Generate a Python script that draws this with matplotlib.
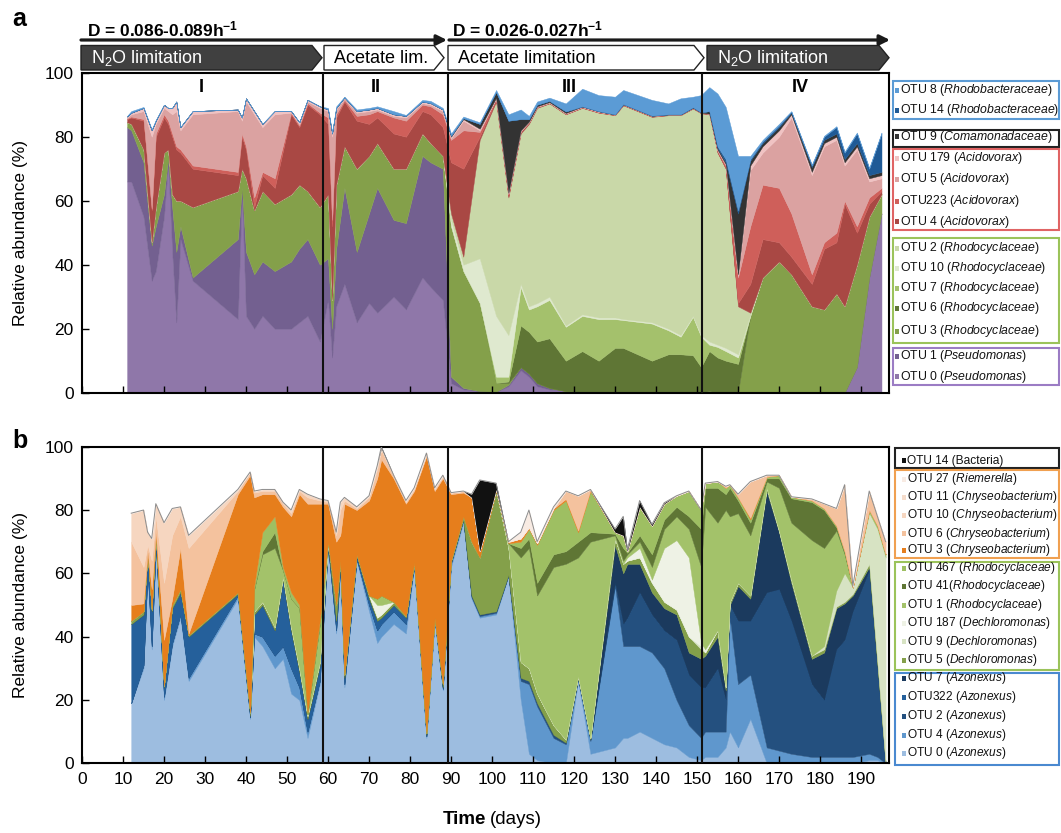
import numpy as np
import matplotlib
matplotlib.use('Agg')
import matplotlib.pyplot as plt
from matplotlib.patches import Polygon, Rectangle

plt.rcParams['font.family'] = ['Liberation Sans', 'DejaVu Sans']
plt.rcParams['mathtext.fontset'] = 'custom'
plt.rcParams['mathtext.rm'] = 'Liberation Sans'
plt.rcParams['mathtext.it'] = 'Liberation Sans:italic'
plt.rcParams['mathtext.bf'] = 'Liberation Sans:bold'
NARROW = ['Liberation Sans Narrow', 'Liberation Sans', 'DejaVu Sans']

# ---------------- data: panel a ----------------
days_a = [11, 12, 15, 17, 18, 20, 21, 22, 23, 24, 27, 38, 39, 40, 42, 44, 47, 51, 53, 55, 58,
          60, 61, 62, 64, 67, 70, 72, 76, 79, 83, 85, 88,
          90, 93, 97, 101, 104, 107, 109, 111, 114, 118, 122, 126, 130, 132, 139, 143, 146, 149, 151,
          153, 155, 157, 160, 163, 166, 170, 173, 178, 181, 184, 186, 189, 192, 195]

a_otu0 = [66, 66, 55, 35, 38, 55, 72, 44, 22, 48, 35, 23, 63, 24, 20, 24, 20, 20, 22, 24, 16,
          29, 11, 27, 34, 22, 28, 25, 30, 26, 36, 33, 29,
          3, 1, 0.5, 0.3, 2, 7, 5, 2, 1, 0.5, 0.3, 0.2, 0.2, 0.1, 0.1, 0.1, 0.1, 0.1, 0.1,
          0.2, 0, 0, 0, 0, 0, 0, 0, 0, 0, 0, 0, 8, 36, 56]
a_otu1 = [17, 16, 17, 11, 14, 7, 1, 14, 22, 4, 1, 25, 1, 20, 17, 17, 18, 21, 23, 24, 24,
          13, 9, 18, 30, 22, 28, 39, 24, 27, 38, 39, 41,
          2, 0.5, 0, 0, 0.5, 1, 1, 1, 0.5, 0, 0, 0, 0, 0, 0, 0, 0, 0, 0,
          0.1, 0, 0, 0, 0, 0, 0, 0, 0, 0, 0, 0, 0, 0, 0]
a_otu3 = [1.5, 2, 4, 1, 6, 13, 3, 4, 16, 8, 22, 15, 6, 23, 20, 22, 21, 21, 20, 15, 18,
          20, 9, 20, 13, 26, 18, 14, 16, 17, 7, 6, 4,
          47, 36.5, 27.5, 2.7, 0.5, 0, 0, 0, 0, 0, 0, 0, 0, 0, 0, 0, 0, 0, 0,
          0.2, 0, 0, 0, 24, 36, 41, 37, 27, 26, 31, 27, 32, 19, 6]
a_otu6 = [0, 0, 0, 0, 0, 0, 0, 0, 0, 0, 0, 0, 0, 0, 0, 0, 0, 0, 0, 0, 0,
          0, 0, 0, 0, 0, 0, 0, 0, 0, 0, 0, 0,
          0, 0, 0, 0, 0.5, 13, 13, 13, 15.5, 9.5, 12.7, 9.8, 13.8, 13.9, 9.9, 11.9, 11.9, 11.6, 7.9,
          12.5, 11, 10, 9, 0, 0, 0, 0, 0, 0, 0, 0, 0, 0, 0]
a_otu7 = [0, 0, 0, 0, 0, 0, 0, 0, 0, 0, 0, 0, 0, 0, 0, 0, 0, 0, 0, 0, 0,
          0, 0, 0, 0, 0, 0, 0, 0, 0, 0, 0, 0,
          0, 0, 0, 2, 1.5, 12, 7, 11, 12, 10.6, 11, 13, 9, 8.7, 11.6, 7.5, 5.5, 12, 9.5,
          2, 3.3, 3, 2, 0, 0, 0, 0, 0, 0, 0, 0, 0, 0, 0]
a_otu10 = [0, 0, 0, 0, 0, 0, 0, 0, 0, 0, 0, 0, 0, 0, 0, 0, 0, 0, 0, 0, 0,
           0, 0, 0, 0, 0, 0, 0, 0, 0, 0, 0, 0,
           2, 2, 14, 19, 13, 1, 1, 1, 1, 0.4, 0.5, 0.5, 0.5, 0.3, 0.4, 0.5, 0.5, 0.3, 0.5,
           1, 0.7, 1, 1, 0.5, 0, 0, 0, 0, 0, 0, 0, 0, 0, 0]
a_otu2 = [0, 0, 0, 0, 0, 0, 0, 0, 0, 0, 0, 0, 0, 0, 0, 0, 0, 0, 0, 0, 0,
          0, 0, 0, 0, 0, 0, 0, 0, 0, 0, 0, 0,
          2, 2.5, 37, 67, 43, 47, 57, 61, 60.4, 66, 64.5, 64, 63.2, 66.8, 64.2, 66.7, 68.7, 64.8, 69.3,
          71, 60, 56, 15, 0.5, 0, 0, 0, 0, 0, 0, 0, 0, 0, 0]
a_otu4 = [1, 2, 9, 10, 22, 11, 8, 18, 16, 15, 12, 5, 10, 9, 1, 5, 5, 25, 18, 27, 29,
          22, 23, 21, 14, 15, 10, 8, 11, 10, 7, 9, 9,
          16, 27.5, 1, 0.5, 0.5, 0.5, 0.3, 0.2, 0.1, 0.1, 0.1, 0.1, 0.1, 0.1, 0.1, 0.1, 0.1, 0.1, 0.1,
          0.1, 0.2, 0.2, 1, 9, 12, 6, 5.5, 7, 19, 16, 32, 10, 4, 1]
a_otu223 = [0.2, 0.3, 0.5, 0.5, 1, 1, 1, 1, 1, 1, 1, 1, 1, 1, 3, 1, 3, 0.5, 0.5, 0.5, 0.5,
            2, 2, 1, 0.5, 1.5, 3, 2, 5, 5, 2, 2.5, 4,
            7, 12, 1.5, 0.5, 0.5, 0.2, 0.2, 0.1, 0.1, 0.1, 0.1, 0.1, 0.1, 0.1, 0.1, 0.1, 0.1, 0.1, 0.1,
            0.1, 0.4, 0.8, 8, 18, 17, 17, 13.5, 3, 2, 3, 1, 2, 2, 1]
a_otu5 = [0.3, 0.7, 2.5, 22.5, 3, 2, 3, 6, 11, 6, 16, 19, 4, 14, 26, 14, 20, 0, 0.5, 0.5, 1.5,
          2, 26, 1.5, 0.5, 1, 1, 0.5, 0.5, 1, 0.5, 0.5, 1,
          0.5, 3, 0.5, 0, 0.2, 0.1, 0.1, 0.1, 0.1, 0.1, 0.1, 0.1, 0, 0.1, 0.1, 0, 0, 0, 0,
          0, 0.2, 0.2, 0.5, 17.6, 10, 16, 30, 31, 30, 29, 11, 24, 5, 3]
a_otu179 = [0.3, 0.5, 1, 2, 1, 1, 1, 2, 3, 1, 1, 0.5, 1, 1, 1, 1, 1, 0.5, 0.5, 0.5, 0.5,
            0.5, 1, 0.5, 0.3, 0.5, 0.5, 0.5, 0.5, 0.5, 0.5, 0.5, 0.5,
            0.5, 0.5, 0.5, 0.2, 0.2, 0.2, 0.1, 0.1, 0.1, 0.1, 0.1, 0.1, 0, 0, 0, 0, 0, 0, 0,
            0, 0.2, 0.2, 0.5, 1.4, 2, 2, 1, 1, 1, 1, 1, 1, 1, 1]
a_otu9 = [0, 0, 0, 0, 0, 0, 0, 0, 0, 0, 0, 0, 0, 0, 0, 0, 0, 0, 0, 0, 0,
          0, 0, 0, 0, 0, 0, 0, 0, 0, 0, 0, 0,
          0.3, 0.3, 1.5, 1.8, 22.6, 3.5, 0.8, 0.5, 0.4, 0.5, 0.1, 0.1, 0.1, 0.1, 0.1, 0.1, 0.1, 0.2, 0.1,
          0.8, 0.5, 0.6, 19, 1.5, 1, 1, 0.5, 1.5, 1, 1, 1, 1, 1, 1]
a_otu14 = [0, 0, 0, 0, 0, 0, 0, 0, 0, 0, 0, 0, 0, 0, 0, 0, 0, 0, 0, 0, 0,
           0, 0, 0, 0, 0, 0, 0, 0, 0, 0, 0, 0,
           0, 0, 0, 0, 0, 0, 0, 0, 0, 0, 0, 0, 0, 0, 0, 0, 0, 0, 0,
           0, 0.5, 1, 1, 0.5, 0.5, 0.5, 0.3, 0.5, 1, 2, 2, 3, 2, 12]
a_otu8 = [0.2, 0.5, 0.3, 0.3, 0.3, 0, 0, 0, 0, 0, 0, 0, 0, 0, 0, 0, 0, 0, 0, 0, 0,
          0.5, 0.5, 0.5, 0.2, 0.5, 0.5, 0.5, 1, 0.3, 0.5, 0.7, 0.5,
          0.7, 0.5, 0.5, 0.6, 2, 3, 1, 1, 1, 2.5, 5.5, 5, 5.5, 4.4, 4.9, 3.4, 5, 3.3, 5.4,
          7.5, 16.5, 16.3, 17, 1, 0.5, 0.5, 0.2, 0.3, 0.3, 0.3, 0.3, 0.3, 0.3, 0.3]

labels_a = ['OTU 8 ($\\mathit{Rhodobacteraceae}$)', 'OTU 14 ($\\mathit{Rhodobacteraceae}$)',
            'OTU 9 ($\\mathit{Comamonadaceae}$)',
            'OTU 179 ($\\mathit{Acidovorax}$)', 'OTU 5 ($\\mathit{Acidovorax}$)',
            'OTU223 ($\\mathit{Acidovorax}$)', 'OTU 4 ($\\mathit{Acidovorax}$)',
            'OTU 2 ($\\mathit{Rhodocyclaceae}$)', 'OTU 10 ($\\mathit{Rhodocyclaceae}$)',
            'OTU 7 ($\\mathit{Rhodocyclaceae}$)', 'OTU 6 ($\\mathit{Rhodocyclaceae}$)',
            'OTU 3 ($\\mathit{Rhodocyclaceae}$)',
            'OTU 1 ($\\mathit{Pseudomonas}$)', 'OTU 0 ($\\mathit{Pseudomonas}$)']

# ---------------- data: panel b ----------------
days_b = [12, 15, 16, 17, 18, 20, 22, 24, 26, 38, 41, 42, 44, 47, 49, 51, 53, 55, 58,
          60, 62, 63, 64, 67, 70, 72, 73, 76, 79, 81, 84, 86, 88,
          90, 93, 95, 97, 101, 104, 107, 109, 111, 115, 118, 121, 124, 130, 132, 133, 136, 139, 142, 145, 148, 151,
          152, 155, 157, 158, 160, 163, 167, 170, 173, 178, 181, 184, 186, 188, 192, 194, 196]

b_otu0 = [19, 30, 60, 36, 68, 20, 37, 46, 26, 52, 14, 40, 37, 30, 33, 22, 20, 8, 25,
          68, 41, 61, 24, 64, 48, 38, 40, 44, 41, 62, 8, 45, 23,
          62, 76, 52, 46, 47, 59, 20, 3, 1, 0, 0, 26, 3, 5, 8, 8, 10, 8, 6, 5, 2, 1,
          2, 2, 5, 10, 5, 14, 0, 0, 0, 0, 0, 0, 0, 0, 1, 1, 0]
b_otu4 = [0, 1, 1, 1, 1, 1, 1, 1, 1, 1, 0.5, 1, 3, 4, 4, 8, 4, 2, 1,
          0.5, 1, 1, 1, 0.5, 2, 4, 4, 4, 3, 0.5, 0.5, 0.5, 0.5,
          1, 1, 0.5, 0.5, 0.5, 0.3, 6, 22, 17, 8, 6, 0.5, 4, 51, 29, 29, 27, 27, 24, 15, 10, 7,
          8, 8, 5, 36, 20, 14, 5, 4, 3, 2, 2, 2, 2, 2, 2, 1, 0]
b_otu2 = [0, 0, 0, 0, 0, 0, 0, 0, 0, 0, 0, 0, 0, 0, 0, 0, 0, 0, 0,
          0, 0, 0, 0, 0, 0, 0, 0, 0, 0, 0, 0, 0, 0,
          0.5, 0, 0.5, 0.5, 0.5, 0.2, 1, 1, 1, 1, 0.5, 0.5, 0.5, 1, 7, 9, 17, 12, 12, 19, 16, 16,
          14, 20, 10, 4, 20, 17, 49, 51, 42, 23, 18, 34, 37, 46, 58, 28, 0]
b_otu322 = [25, 16, 5, 11, 3, 3, 11, 7, 13, 0.5, 0.5, 6, 10, 8, 21, 12, 5, 4, 5,
            0.5, 3, 1, 2, 1, 2, 3, 2, 2, 2, 0.5, 0.5, 0.5, 0.5,
            0, 0, 0, 0, 0, 0, 0, 0, 0, 0, 0, 0, 0, 0, 0, 0, 0, 0, 0, 0, 0, 0,
            0, 0, 0, 0, 0, 0, 0, 0, 0, 0, 0, 0, 0, 0, 0, 0, 0]
b_otu7 = [0, 0, 0, 0, 0, 0, 0, 0, 0, 0, 0, 0, 0, 0, 0, 0, 0, 0, 0,
          0, 0, 0, 0, 0, 0, 0, 0, 0, 0, 0, 0, 0, 0,
          0, 0, 0, 0, 0, 0, 0, 0, 0, 0, 0, 0, 0, 12, 16, 17, 9, 7, 7, 8, 7, 9,
          10, 10, 3, 0, 11, 7, 32, 18, 12, 8, 15, 13, 11.5, 5, 1, 1, 0]
b_otu5 = [1, 1, 0.5, 0.5, 0.5, 0.5, 1, 1, 0.5, 0.5, 1, 1, 1, 1, 1, 1, 1, 1, 1,
          1, 5, 1, 1, 0.5, 1, 1, 1, 1, 0.5, 0.5, 0.5, 0, 1,
          0.5, 1, 17, 18, 38, 8.5, 5, 4, 3, 3, 1, 0.5, 0.5, 2, 3, 1, 2, 3, 2, 1.5, 5, 3,
          1, 2, 1, 1, 1, 1, 1, 0.5, 1, 1, 1, 0.5, 0.5, 0.5, 1, 1, 0]
b_otu9 = [0, 0, 0, 0, 0, 0, 0, 0, 0, 0, 0, 0, 0, 0, 0, 0, 0, 0, 0,
          0, 0, 0, 0, 0, 0, 0, 0, 0, 0, 0, 0, 0, 0,
          0, 0, 0, 0, 0, 0, 0, 0, 0, 0, 0, 0, 0, 0, 0, 0, 0, 0, 0, 0, 0, 1,
          0, 0, 0, 0, 0, 0, 0, 0, 0, 0, 1, 5, 9, 2, 16, 42, 65]
b_otu187 = [0, 0, 0, 0, 0, 0, 0, 0, 0, 0, 0, 0, 0, 0, 0, 0, 0, 0, 0,
            0, 0, 0, 0, 0, 0, 4, 3, 0, 0, 0, 0, 0, 0,
            0, 0, 0, 0, 0, 0, 0, 0, 0, 0, 0, 0, 0, 0, 0, 1, 3, 1, 17, 22, 25, 1,
            1, 0, 0, 0, 0, 0, 0, 0, 0, 0, 0, 0, 0, 0, 0, 0, 0]
b_otu1 = [0, 0, 0, 0, 0, 0, 0, 0, 0, 0, 0, 7, 15, 25, 2, 9, 19, 0.5, 12,
          0, 0, 0, 0, 0, 0, 2, 3, 0, 0, 0, 0, 0, 0,
          0, 0, 0, 0, 0, 1.5, 33, 38, 31, 50, 55.5, 37.5, 62, 1, 1, 1, 2, 4, 6, 7.5, 9, 24,
          45, 34, 56, 27, 22, 19, 2, 13.5, 18, 36.5, 31, 19, 6, 0, 1, 1, 1]
b_otu41 = [0, 0, 0, 0, 0, 0, 0, 0, 0, 0, 0, 0, 1, 5, 0, 0, 0, 0, 0,
           0, 0, 0, 0, 0, 0, 0, 0, 0, 0, 0, 0, 0, 0,
           0, 0, 0, 0, 0, 0, 3, 3, 4, 4, 4, 5, 3, 0.5, 4, 0.5, 2, 4, 3, 3, 4, 12,
           6, 11, 5, 9, 4, 4, 1, 3, 7.7, 12, 12, 1, 0.5, 0, 0, 0, 0]
b_otu467 = [0, 0, 0, 0, 0, 0, 0, 0, 0, 0, 0, 1, 6, 5, 1, 2, 1, 0.5, 1,
            0, 0, 0, 0, 0, 0, 0, 0, 0, 0, 0, 0, 0, 0,
            0, 0, 0, 0, 0, 0, 2, 3, 12, 14, 16, 3, 13, 0.5, 4, 0.5, 9, 9, 5, 3.5, 8, 6,
            1.5, 2, 2, 1, 1, 1, 0.5, 1, 0.5, 0.5, 0.5, 0.5, 0.5, 0, 0, 0, 0]
b_otu3 = [5, 2.5, 0.5, 6.5, 0.5, 14.5, 2, 13, 0.5, 31, 75, 28, 12, 7, 19, 24, 35, 66, 37,
          12, 20, 8, 54, 14, 30, 38, 43, 39, 35.5, 22.5, 87.5, 40, 65,
          21, 7.5, 14, 2, 0.5, 0.3, 1, 0.5, 0.5, 0.5, 0.5, 0.5, 0.3, 0, 0, 0, 0, 0, 0, 0, 0, 0,
          0, 0, 0, 0, 0, 0.5, 0, 0, 0, 0, 0, 0, 0, 0, 0, 0, 0]
b_otu6 = [20, 11.5, 2, 9, 5, 18, 20, 10, 27, 1, 1, 1.5, 1, 1, 1, 1, 1, 2, 1,
          0.5, 2, 8, 1, 0.5, 1, 3, 3, 0.5, 0.5, 0.5, 0.5, 0.5, 0.5,
          0.5, 0.5, 0, 0, 0, 0.2, 0, 0, 0, 0, 2.5, 11, 0.2, 0, 0, 0, 0, 0, 0, 0, 0, 0,
          0, 0, 0.5, 0, 1, 11.5, 0.5, 0, 0, 0.5, 1.5, 5.5, 21, 0.5, 6, 3, 4]
b_otu10 = [9, 18, 4, 7, 4, 19, 8.5, 3, 4, 0.5, 0, 0.5, 0.5, 0.5, 0.5, 1, 0.5, 1, 0.5,
           0.5, 1, 2.5, 1, 0.5, 0.5, 1, 0.5, 0.5, 0.5, 0.5, 0.5, 0.5, 0.5,
           0, 0, 0, 0, 0, 0, 0, 0, 0, 0, 0, 0, 0, 0, 0, 0, 0, 0, 0, 0, 0, 0,
           0, 0, 0, 0, 0, 0, 0, 0, 0, 0, 0, 0, 0, 0, 0, 0, 0]
b_otu11 = [0, 0, 0, 0, 0, 0, 0, 0, 0, 0, 0, 0, 0, 0, 0, 0, 0, 0, 0,
           0, 0, 0, 0, 0, 0, 0, 0, 0, 0, 0, 0, 0, 0,
           0, 0, 0, 0, 0, 0, 0, 0, 0, 0, 0, 0, 0, 0, 0, 0, 0, 0, 0, 0, 0, 0,
           0, 0, 0, 0, 0, 0, 0, 0, 0, 0, 0, 0, 0, 0, 0, 0, 0]
b_otu27 = [0, 0, 0, 0, 0, 0, 0, 0, 0, 0, 0, 0, 0, 0, 0, 0, 0, 0, 0,
           0, 0, 0, 0, 0, 0, 0, 0, 0, 0, 0, 0, 0, 0,
           0, 0, 0, 0, 0, 0, 2, 5.5, 0.5, 0.5, 0, 0, 0, 0, 0, 0, 0, 0, 0, 0, 0, 0,
           0, 0, 0, 0, 0, 0, 0, 0, 0, 0, 0, 0, 0, 0, 0, 0, 0]
b_otu14 = [0, 0, 0, 0, 0, 0, 0, 0, 0, 0, 0, 0, 0, 0, 0, 0, 0, 0, 0,
           0, 0, 0, 0, 0, 0, 0, 0.5, 0, 0, 0, 0, 0, 0,
           0, 0, 1, 22.5, 2, 0, 0, 0, 0, 0, 0, 0, 0, 1, 6, 0.5, 2, 0.5, 0.3, 0, 0, 0,
           0, 0, 0, 0, 0, 0, 0, 0, 0, 0, 0, 0, 0, 0, 0, 0, 0]

labels_b = ['OTU 14 (Bacteria)', 'OTU 27 ($\\mathit{Riemerella}$)',
            'OTU 11 ($\\mathit{Chryseobacterium}$)', 'OTU 10 ($\\mathit{Chryseobacterium}$)',
            'OTU 6 ($\\mathit{Chryseobacterium}$)', 'OTU 3 ($\\mathit{Chryseobacterium}$)',
            'OTU 467 ($\\mathit{Rhodocyclaceae}$)', 'OTU 41($\\mathit{Rhodocyclaceae}$)',
            'OTU 1 ($\\mathit{Rhodocyclaceae}$)', 'OTU 187 ($\\mathit{Dechloromonas}$)',
            'OTU 9 ($\\mathit{Dechloromonas}$)', 'OTU 5 ($\\mathit{Dechloromonas}$)',
            'OTU 7 ($\\mathit{Azonexus}$)', 'OTU322 ($\\mathit{Azonexus}$)',
            'OTU 2 ($\\mathit{Azonexus}$)', 'OTU 4 ($\\mathit{Azonexus}$)',
            'OTU 0 ($\\mathit{Azonexus}$)']

phase_bounds = [58.8, 89.2, 151.2]
phase_names = ['I', 'II', 'III', 'IV']

# ---------------- styles ----------------
series_a = [a_otu0, a_otu1, a_otu3, a_otu6, a_otu7, a_otu10, a_otu2,
            a_otu4, a_otu223, a_otu5, a_otu179, a_otu9, a_otu14, a_otu8]
colors_a = ['#8f77a9', '#736090', '#84a04a', '#5f7635', '#a4c16c', '#dfe9cf', '#c9d8a8',
            '#a94844', '#cf5f5a', '#dba2a1', '#f0c3c3', '#333333', '#1f5a96', '#5b9bd5']
series_b = [b_otu0, b_otu4, b_otu2, b_otu322, b_otu7, b_otu5, b_otu9, b_otu187,
            b_otu1, b_otu41, b_otu467, b_otu3, b_otu6, b_otu10, b_otu11, b_otu27, b_otu14]
colors_b = ['#9dbde0', '#5f97cd', '#24507f', '#25609b', '#1b3a5e', '#84a04a', '#d7e3c3',
            '#eef2e5', '#a3c26a', '#5f7635', '#9ebf62', '#e67e1c', '#f4c29e', '#f6d6c0',
            '#f5dccb', '#f8ebe3', '#111111']

W, H = 1061, 833
fig = plt.figure(figsize=(W / 100, H / 100), dpi=100)


def px_axes(l, t, r, b):
    return fig.add_axes([l / W, 1 - b / H, (r - l) / W, (b - t) / H])


AX_L, AX_R = 82, 889
axA = px_axes(AX_L, 72.7, AX_R, 392.7)
axB = px_axes(AX_L, 446.7, AX_R, 763.3)

axA.stackplot(days_a, *series_a, colors=colors_a, linewidth=0.3, edgecolor='face')
polys_b = axB.stackplot(days_b, *series_b, colors=colors_b, linewidth=0.3, edgecolor='face')
polys_b[-1].set_linewidth(0)
axB.plot(days_b, np.sum(np.array(series_b), axis=0), color='#8c8c8c', lw=0.7, zorder=3)

for ax in (axA, axB):
    ax.set_xlim(0, (AX_R - AX_L) / 4.1)
    ax.set_ylim(0, 100)
    ax.set_xticks(np.arange(0, 191, 10))
    ax.set_yticks([0, 20, 40, 60, 80, 100])
    ax.tick_params(direction='in', length=5, width=1, labelsize=12.5, pad=6)
    for s in ax.spines.values():
        s.set_linewidth(1.5)
    for xb in phase_bounds:
        ax.axvline(xb, color='#111111', lw=1.5, zorder=5)
    ax.set_ylabel('Relative abundance (%)', fontsize=12.5)
    ax.yaxis.set_label_coords(-54 / (AX_R - AX_L), 0.5)
    for lbl in ax.get_yticklabels() + ax.get_xticklabels():
        lbl.set_family(NARROW)
axA.set_xticklabels([])

# ---------------- overlay ----------------
ov = fig.add_axes([0, 0, 1, 1], zorder=10)
ov.set_xlim(0, W)
ov.set_ylim(H, 0)
ov.axis('off')

ov.text(12, 19, 'a', fontsize=18, fontweight='bold', va='center')
ov.text(12, 441, 'b', fontsize=18, fontweight='bold', va='center')

ov.text(87, 29, 'D = 0.086-0.089h$^{\\mathbf{-1}}$', fontsize=12.5, fontweight='bold',
        va='center', family=NARROW)
ov.text(452, 29, 'D = 0.026-0.027h$^{\\mathbf{-1}}$', fontsize=12.5, fontweight='bold',
        va='center', family=NARROW)
ov.annotate('', xy=(447, 40), xytext=(81, 40),
            arrowprops=dict(arrowstyle='-|>', lw=2.3, color='#1a1a1a', mutation_scale=15,
                            shrinkA=0, shrinkB=0))
ov.annotate('', xy=(890, 40), xytext=(449, 40),
            arrowprops=dict(arrowstyle='-|>', lw=2.3, color='#1a1a1a', mutation_scale=15,
                            shrinkA=0, shrinkB=0))

chevrons = [(81, 322, '#404040', 'white', 'N$_2$O limitation'),
            (324, 444, 'white', 'black', 'Acetate lim.'),
            (448, 704, 'white', 'black', 'Acetate limitation'),
            (707, 889, '#404040', 'white', 'N$_2$O limitation')]
y0, y1, tip = 45.5, 70, 10
for x0, x1, fc, tc, txt in chevrons:
    pts = [(x0, y0), (x1 - tip, y0), (x1, (y0 + y1) / 2), (x1 - tip, y1), (x0, y1)]
    ov.add_patch(Polygon(pts, closed=True, facecolor=fc, edgecolor='#222222', lw=1))
    ov.text(x0 + 10, (y0 + y1) / 2 + 0.5, txt, color=tc, fontsize=13, va='center',
            family=NARROW)

for name, xp in zip(phase_names, [201, 376, 569, 800]):
    ov.text(xp, 87, name, fontsize=13, fontweight='bold', ha='center', va='center')

ov.text(486, 820, 'Time', fontsize=13.5, fontweight='bold', ha='right', va='center',
        family=NARROW)
ov.text(490, 820, '(days)', fontsize=13.5, ha='left', va='center', family=NARROW)

# legends
leg_a_y = [90, 110, 136.7, 158, 179, 201, 221.7, 248, 268, 288, 308, 331, 356, 376.7]
leg_a_cols = colors_a[::-1]
for lab, col, yy in zip(labels_a, leg_a_cols, leg_a_y):
    ov.add_patch(Rectangle((894.5, yy - 2.5), 4.5, 5, facecolor=col, edgecolor='none'))
    ov.text(900, yy, lab, fontsize=8.8, va='center', ha='left', color='#111111')
boxes_a = [(81, 119, '#5b9bd5'), (130, 147, '#222222'), (149, 230, '#e06464'),
           (238, 343, '#9bc35a'), (348, 385, '#9b7cc4')]
for t, b, ec in boxes_a:
    ov.add_patch(Rectangle((892.5, t), 166, b - t, facecolor='none', edgecolor=ec, lw=1.5))

leg_b_y = [460.7, 479, 497, 515, 533.5, 550.5, 568, 586.5, 605, 623, 641.7, 660.5,
           678.5, 697, 716, 735, 753]
leg_b_cols = colors_b[::-1]
for lab, col, yy in zip(labels_b, leg_b_cols, leg_b_y):
    ov.add_patch(Rectangle((901.5, yy - 2.5), 4.5, 5, facecolor=col, edgecolor='none'))
    ov.text(907, yy, lab, fontsize=8.6, va='center', ha='left', color='#111111')
boxes_b = [(448, 468, '#222222'), (469.5, 558, '#f0a050'), (562, 670, '#9bc35a'),
           (673, 765, '#4a89d0')]
for t, b, ec in boxes_b:
    ov.add_patch(Rectangle((895, t), 164, b - t, facecolor='none', edgecolor=ec, lw=1.5))

fig.savefig('out.png', dpi=100)
